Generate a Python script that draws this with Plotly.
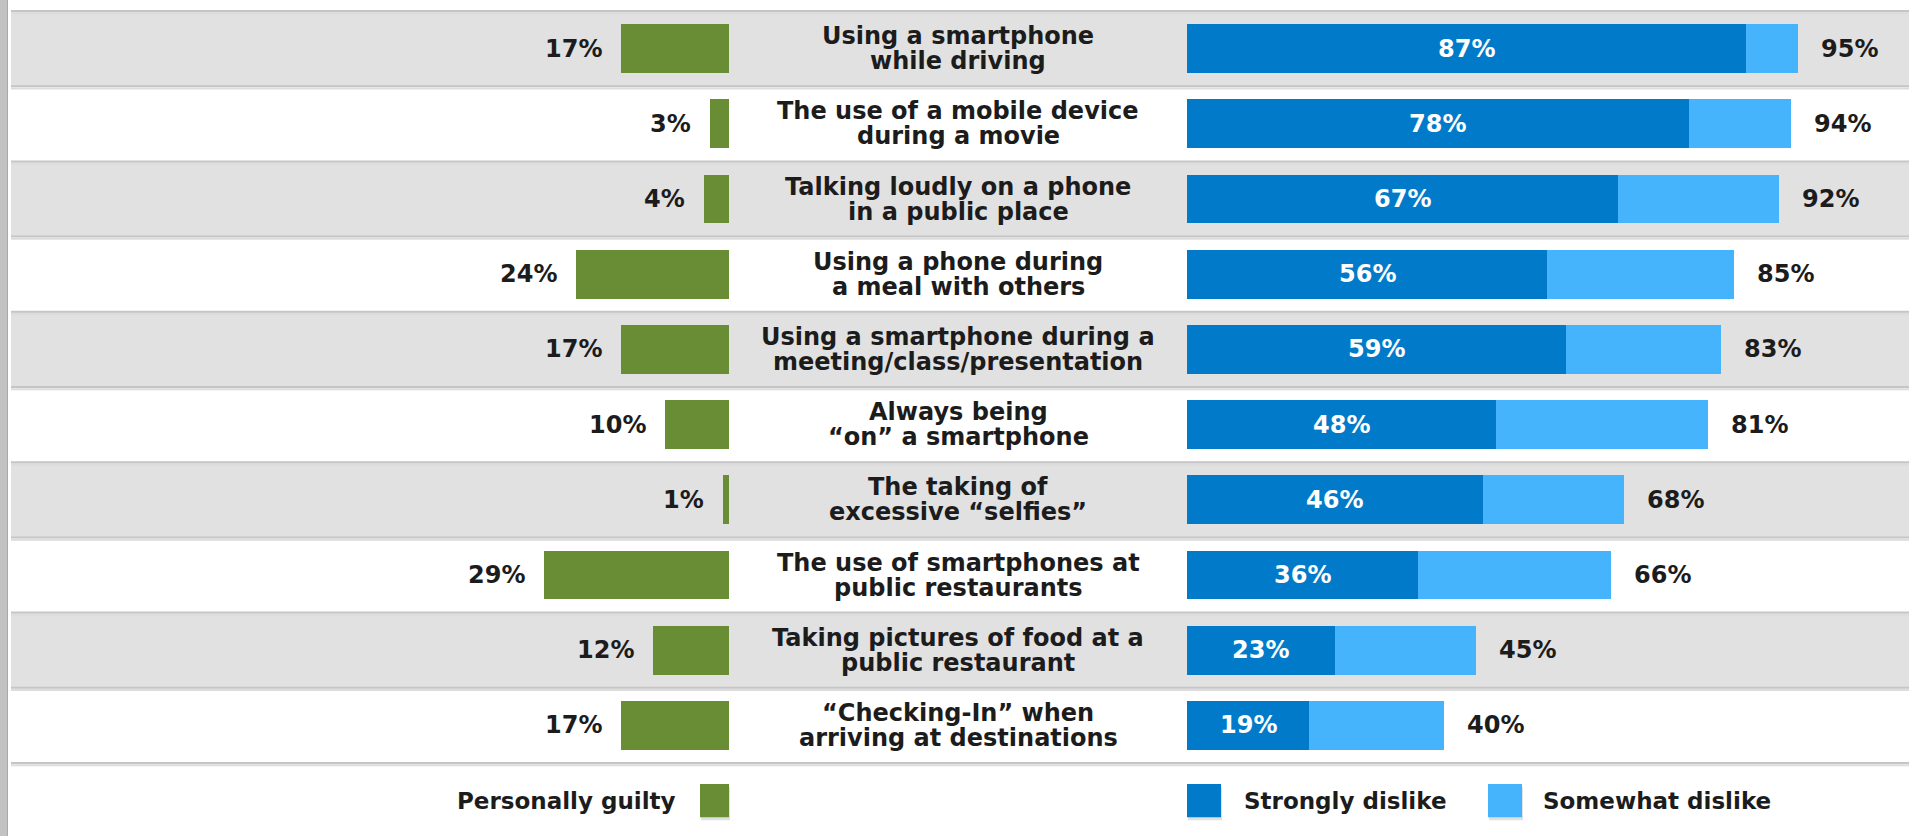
import plotly.graph_objects as go

# Survey results, one row per behaviour (top to bottom)
behaviours = [
    "Using a smartphone<br>while driving",
    "The use of a mobile device<br>during a movie",
    "Talking loudly on a phone<br>in a public place",
    "Using a phone during<br>a meal with others",
    "Using a smartphone during a<br>meeting/class/presentation",
    "Always being<br>“on” a smartphone",
    "The taking of<br>excessive “selfies”",
    "The use of smartphones at<br>public restaurants",
    "Taking pictures of food at a<br>public restaurant",
    "“Checking-In” when<br>arriving at destinations",
]
personally_guilty = [17, 3, 4, 24, 17, 10, 1, 29, 12, 17]
strongly_dislike = [87, 78, 67, 56, 59, 48, 46, 36, 23, 19]
total_dislike = [95, 94, 92, 85, 83, 81, 68, 66, 45, 40]

legend_labels = ["Personally guilty", "Strongly dislike", "Somewhat dislike"]

GREEN = "#688d35"
DARK_BLUE = "#017bc9"
LIGHT_BLUE = "#46b4fd"
ROW_GRAY = "#e1e1e1"
LINE_GRAY = "#c5c5c5"
TEXT = "#1c1c1c"
FONT = "DejaVu Sans"

W, H = 1909, 836
rows = list(range(len(behaviours)))
BAR_W = 0.65

somewhat = [t - s for t, s in zip(total_dislike, strongly_dislike)]

fig = go.Figure()

fig.add_trace(go.Bar(
    y=rows, x=personally_guilty, orientation="h", width=BAR_W,
    marker=dict(color=GREEN, line=dict(width=0)),
    xaxis="x", yaxis="y", name=legend_labels[0], hoverinfo="skip",
))
fig.add_trace(go.Bar(
    y=rows, x=strongly_dislike, orientation="h", width=BAR_W,
    marker=dict(color=DARK_BLUE, line=dict(width=0)),
    xaxis="x2", yaxis="y", name=legend_labels[1], hoverinfo="skip",
))
fig.add_trace(go.Bar(
    y=rows, x=somewhat, base=strongly_dislike, orientation="h", width=BAR_W,
    marker=dict(color=LIGHT_BLUE, line=dict(width=0)),
    xaxis="x2", yaxis="y", name=legend_labels[2], hoverinfo="skip",
))

shapes = []
annotations = []

x_left = 11 / W
# alternating row bands and separators
for i in rows:
    if i % 2 == 0:
        shapes.append(dict(type="rect", xref="paper", yref="y", x0=x_left, x1=1,
                           y0=i - 0.5, y1=i + 0.5, fillcolor=ROW_GRAY,
                           line=dict(width=0), layer="below"))
for b in [r - 0.5 for r in rows] + [rows[-1] + 0.5]:
    shapes.append(dict(type="line", xref="paper", yref="y", x0=x_left, x1=1,
                       y0=b, y1=b, line=dict(color=LINE_GRAY, width=2), layer="below"))
    shapes.append(dict(type="line", xref="paper", yref="y", x0=x_left, x1=1,
                       y0=b + 0.03, y1=b + 0.03, line=dict(color="#dcdcdc", width=2),
                       layer="below"))

# frame edge on the left
shapes.append(dict(type="rect", xref="paper", yref="paper", x0=0, x1=8 / W, y0=0, y1=1,
                   fillcolor="#c2c2c2", line=dict(width=0), layer="below"))
shapes.append(dict(type="line", xref="paper", yref="paper", x0=7.5 / W, x1=7.5 / W,
                   y0=0, y1=1, line=dict(color="#a9a9a9", width=1), layer="below"))

FS = 24        # category text
FL = 23        # legend text
FV = 24        # value labels
LINE_GAP = 25  # px between the two lines of a category label

for i, lab in enumerate(behaviours):
    lines = lab.split("<br>")
    n = len(lines)
    for k, line in enumerate(lines):
        offset = ((n - 1) / 2 - k) * LINE_GAP
        annotations.append(dict(xref="paper", yref="y", x=958 / W, y=i, text=f"<b>{line}</b>",
                                showarrow=False, xanchor="center", yanchor="middle",
                                yshift=offset,
                                font=dict(family=FONT, size=FS, color=TEXT)))
    annotations.append(dict(xref="x", yref="y", x=personally_guilty[i], y=i,
                            text=f"<b>{personally_guilty[i]}%</b>", showarrow=False,
                            xanchor="right", yanchor="middle", xshift=-17,
                            font=dict(family=FONT, size=FV, color=TEXT)))
    annotations.append(dict(xref="x2", yref="y", x=strongly_dislike[i] / 2, y=i,
                            text=f"<b>{strongly_dislike[i]}%</b>", showarrow=False,
                            xanchor="center", yanchor="middle",
                            font=dict(family=FONT, size=FV, color="white")))
    annotations.append(dict(xref="x2", yref="y", x=total_dislike[i], y=i,
                            text=f"<b>{total_dislike[i]}%</b>", showarrow=False,
                            xanchor="left", yanchor="middle", xshift=21,
                            font=dict(family=FONT, size=FV, color=TEXT)))

# legend row
leg_y = len(behaviours)
legend_boxes = [
    (700, 729, GREEN),
    (1187, 1221, DARK_BLUE),
    (1488, 1522, LIGHT_BLUE),
]
for x0, x1, col in legend_boxes:
    shapes.append(dict(type="rect", xref="paper", yref="y", x0=(x0 + 1) / W, x1=(x1 + 1) / W,
                       y0=leg_y - 0.18, y1=leg_y + 0.26, fillcolor="rgba(0,0,0,0.12)",
                       line=dict(width=0), layer="below"))
    shapes.append(dict(type="rect", xref="paper", yref="y", x0=x0 / W, x1=x1 / W,
                       y0=leg_y - 0.22, y1=leg_y + 0.22, fillcolor=col,
                       line=dict(width=0), layer="above"))
annotations.append(dict(xref="paper", yref="y", x=678 / W, y=leg_y,
                        text=f"<b>{legend_labels[0]}</b>", showarrow=False,
                        xanchor="right", yanchor="middle",
                        font=dict(family=FONT, size=FL, color=TEXT)))
annotations.append(dict(xref="paper", yref="y", x=1242 / W, y=leg_y,
                        text=f"<b>{legend_labels[1]}</b>", showarrow=False,
                        xanchor="left", yanchor="middle",
                        font=dict(family=FONT, size=FL, color=TEXT)))
annotations.append(dict(xref="paper", yref="y", x=1541 / W, y=leg_y,
                        text=f"<b>{legend_labels[2]}</b>", showarrow=False,
                        xanchor="left", yanchor="middle",
                        font=dict(family=FONT, size=FL, color=TEXT)))

PX_G = 6.37
PX_B = 6.43
fig.update_layout(
    width=W, height=H,
    margin=dict(l=0, r=0, t=0, b=0),
    paper_bgcolor="white", plot_bgcolor="rgba(0,0,0,0)",
    showlegend=False, barmode="overlay", bargap=0,
    xaxis=dict(domain=[0, 729 / W], range=[729 / PX_G, 0], visible=False, fixedrange=True),
    xaxis2=dict(domain=[1187 / W, 1], range=[0, (W - 1187) / PX_B], visible=False,
                fixedrange=True),
    yaxis=dict(range=[(H - 48.6) / 75.2, -48.6 / 75.2], visible=False, fixedrange=True),
    shapes=shapes, annotations=annotations,
)

fig.write_html("out.html")
